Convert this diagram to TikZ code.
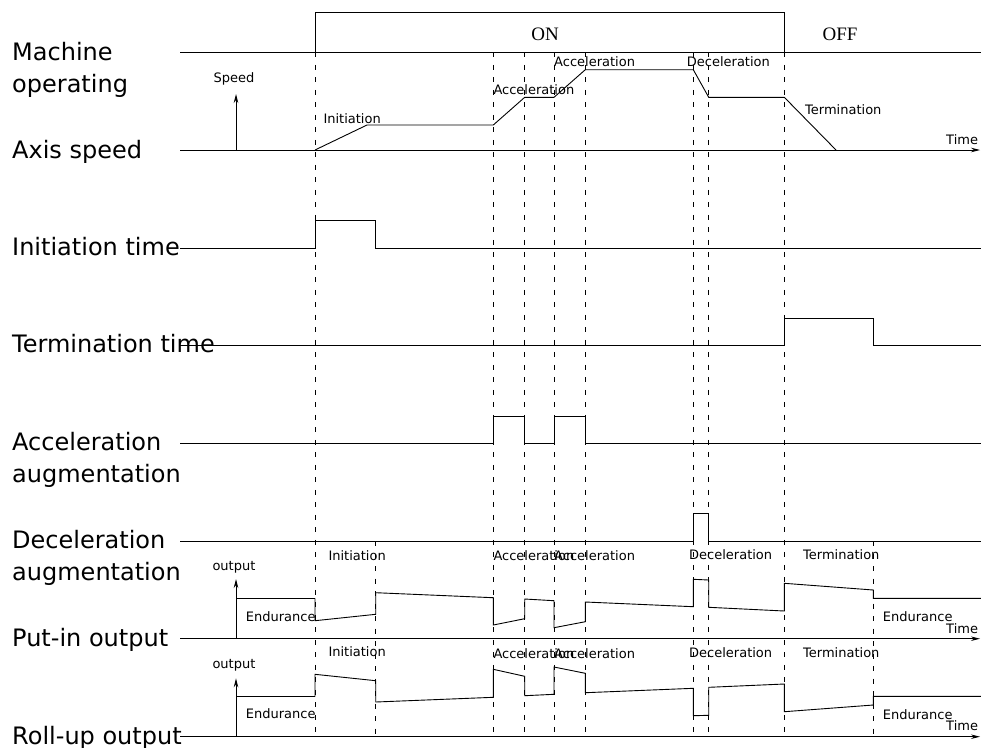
\documentclass[tikz,border=0pt]{standalone}
\usepackage{fontspec}
\setmainfont{DejaVu Sans}
\newfontfamily\statefont{Liberation Serif}
\usetikzlibrary{arrows.meta}

\tikzset{
  sig/.style={line width=0.9pt},
  guide/.style={line width=0.9pt, dash pattern=on 5pt off 7.5pt},
  rowlabel/.style={font=\fontsize{24}{28}\selectfont, anchor=base west, inner sep=0pt},
  tag/.style={font=\fontsize{13}{15}\selectfont, anchor=base west, inner sep=0pt},
  statetag/.style={font=\statefont\fontsize{19}{22}\selectfont, anchor=base, inner sep=0pt},
  axisarrow/.style={sig, -{Stealth[length=9pt,width=4.5pt]}}
}

\begin{document}
\begin{tikzpicture}[x=1pt, y=-1pt]
  \useasboundingbox (0,0) rectangle (981,747);

  % row labels
  \node[rowlabel] (lmach) at (12,60.7) {Machine};
  \node[rowlabel] (lmach2) at (12,92) {operating};
  \node[rowlabel] (laxis) at (12,158.3) {Axis speed};
  \node[rowlabel] (linit) at (12,255) {Initiation time};
  \node[rowlabel] (lterm) at (12,352.7) {Termination time};
  \node[rowlabel] (lacc) at (12,450.7) {Acceleration};
  \node[rowlabel] (lacc2) at (12,482.7) {augmentation};
  \node[rowlabel] (ldec) at (12,548.3) {Deceleration};
  \node[rowlabel] (ldec2) at (12,580.7) {augmentation};
  \node[rowlabel] (lput) at (12,646) {Put-in output};
  \node[rowlabel] (lroll) at (12,744) {Roll-up output};

  % guide lines
  \draw[guide] (315,52.3) -- (315,737)
               (493.3,52.3) -- (493.3,737)
               (524.7,52.3) -- (524.7,737)
               (554,52.3) -- (554,737)
               (585.3,52.3) -- (585.3,737)
               (693.3,52.3) -- (693.3,737)
               (708.7,52.3) -- (708.7,737)
               (784.3,52.3) -- (784.3,737);
  \draw[guide] (375.7,541) -- (375.7,737)
               (873.3,541) -- (873.3,737);

  % machine operating
  \draw[sig] (180,52.3) -- (981,52.3);
  \draw[sig] (315,52.3) -- (315,12.3) -- (784.3,12.3) -- (784.3,52.3);
  \node[statetag] (on) at (545,40) {ON};
  \node[statetag] (off) at (840,40) {OFF};

  % axis speed
  \draw[axisarrow] (180,150) -- (980,150);
  \draw[axisarrow] (236,150) -- (236,94);
  \node[tag] (speed) at (213.3,82.3) {Speed};
  \node[tag] (time1) at (946,144) {Time};
  \draw[sig] (315,150) -- (367,125) -- (493.3,125) -- (524.7,97.3) -- (554,97.3)
    -- (585.3,69.7) -- (693.3,69.7) -- (708.7,97.3) -- (784.3,97.3) -- (836,150);
  \node[tag] (sinit) at (323.3,123.3) {Initiation};
  \node[tag] (sacc1) at (493.3,94) {Acceleration};
  \node[tag] (sacc2) at (554,66.7) {Acceleration};
  \node[tag] (sdec) at (686.7,66) {Deceleration};
  \node[tag] (sterm) at (805,114) {Termination};

  % initiation time
  \draw[sig] (180,248.3) -- (315,248.3) -- (315,220.7) -- (375.7,220.7)
    -- (375.7,248.3) -- (981,248.3);

  % termination time
  \draw[sig] (180,345.7) -- (784.3,345.7) -- (784.3,318.3) -- (873.3,318.3)
    -- (873.3,345.7) -- (981,345.7);

  % acceleration augmentation
  \draw[sig] (180,443.3) -- (493.3,443.3) -- (493.3,416) -- (524.7,416)
    -- (524.7,443.3) -- (554,443.3) -- (554,416) -- (585.3,416)
    -- (585.3,443.3) -- (981,443.3);

  % deceleration augmentation
  \draw[sig] (180,541) -- (693.3,541) -- (693.3,513.7) -- (708.7,513.7)
    -- (708.7,541) -- (981,541);

  % put-in output
  \draw[axisarrow] (180,638.7) -- (980,638.7);
  \draw[axisarrow] (236,638.7) -- (236,579);
  \node[tag] (pout) at (212.3,570.7) {output};
  \draw[sig] (236,598.3) -- (315,598.3);
  \draw[sig] (315,598.3) -- (315,620.7) -- (375.7,614.3) -- (375.7,592.7)
    -- (493.3,597.7) -- (493.3,625) -- (524.7,618.7) -- (524.7,599)
    -- (554,600.7) -- (554,627.7) -- (585.3,621.7) -- (585.3,602)
    -- (693.3,606.7) -- (693.3,579.3) -- (708.7,580) -- (708.7,607.3)
    -- (784.3,611) -- (784.3,583.3) -- (873.3,590) -- (873.3,598.3) -- (981,598.3);
  \node[tag] (pend1) at (245.7,621) {Endurance};
  \node[tag] (pinit) at (328.3,560) {Initiation};
  \node[tag] (pacc1) at (493.3,560) {Acceleration};
  \node[tag] (pacc2) at (554,560) {Acceleration};
  \node[tag] (pdec) at (689,559.3) {Deceleration};
  \node[tag] (pterm) at (803,559) {Termination};
  \node[tag] (pend2) at (882.7,621.7) {Endurance};
  \node[tag] (time2) at (946,633.3) {Time};

  % roll-up output
  \draw[axisarrow] (180,736.7) -- (980,736.7);
  \draw[axisarrow] (236,736.7) -- (236,678.3);
  \node[tag] (rout) at (212.3,668.3) {output};
  \draw[sig] (236,696.7) -- (315,696.7);
  \draw[sig] (315,696.7) -- (315,674.3) -- (375.7,680.7) -- (375.7,702)
    -- (493.3,697.3) -- (493.3,669.3) -- (524.7,676.3) -- (524.7,695.7)
    -- (554,694.3) -- (554,667) -- (585.3,673.3) -- (585.3,692.7)
    -- (693.3,688.3) -- (693.3,715.7) -- (708.7,715.3) -- (708.7,687.3)
    -- (784.3,684) -- (784.3,711.7) -- (873.3,705) -- (873.3,696.3) -- (981,696.3);
  \node[tag] (rend1) at (245.7,718.3) {Endurance};
  \node[tag] (rinit) at (328.3,656.7) {Initiation};
  \node[tag] (racc1) at (493.3,658.3) {Acceleration};
  \node[tag] (racc2) at (554,658.3) {Acceleration};
  \node[tag] (rdec) at (689,657.3) {Deceleration};
  \node[tag] (rterm) at (803,657.3) {Termination};
  \node[tag] (rend2) at (882.7,719.3) {Endurance};
  \node[tag] (time3) at (946,730) {Time};
\end{tikzpicture}
\end{document}
